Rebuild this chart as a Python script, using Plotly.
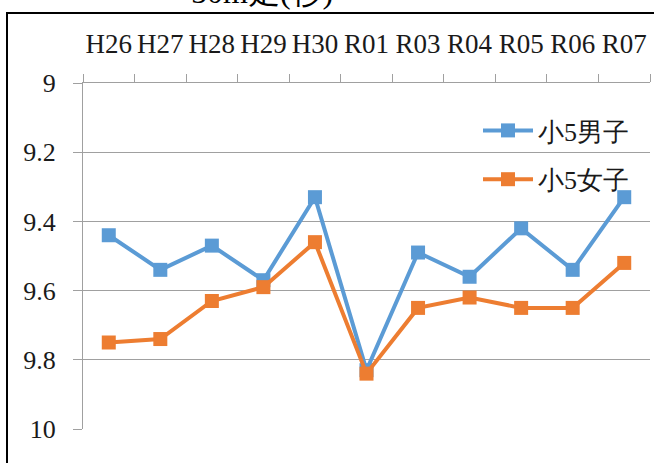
import plotly.graph_objects as go

categories = ["H26", "H27", "H28", "H29", "H30", "R01", "R03", "R04", "R05", "R06", "R07"]
boys = [9.44, 9.54, 9.47, 9.57, 9.33, 9.83, 9.49, 9.56, 9.42, 9.54, 9.33]
girls = [9.75, 9.74, 9.63, 9.59, 9.46, 9.84, 9.65, 9.62, 9.65, 9.65, 9.52]
series_names = ["小5男子", "小5女子"]
title_text = "50m走(秒)"

W, H = 654, 463
ml, mt = 83, 83
mb = H - 429
mr = W - 650
pw, ph = W - ml - mr, H - mt - mb

def px_to_paper_x(px):
    return (px - ml) / pw

def px_to_paper_y(py):
    return (H - mb - py) / ph

serif = "Liberation Serif"

fig = go.Figure()
fig.add_trace(go.Scatter(
    x=categories, y=boys, name=series_names[0], mode="lines+markers",
    line=dict(color="#5B9BD5", width=4), marker=dict(symbol="square", size=14, color="#5B9BD5"),
    legendgroup="a"))
fig.add_trace(go.Scatter(
    x=categories, y=girls, name=series_names[1], mode="lines+markers",
    line=dict(color="#ED7D31", width=4), marker=dict(symbol="square", size=14, color="#ED7D31"),
    legendgroup="b"))

fig.update_layout(
    width=W, height=H,
    margin=dict(l=ml, r=mr, t=mt, b=mb, autoexpand=False),
    paper_bgcolor="white", plot_bgcolor="white",
    font=dict(family=serif, size=26, color="#1a1a1a"),
    showlegend=True,
    legend=dict(x=px_to_paper_x(478), y=px_to_paper_y(107), xanchor="left", yanchor="top",
                bgcolor="rgba(0,0,0,0)", font=dict(size=26, family=serif),
                tracegroupgap=12, itemwidth=50),
    xaxis=dict(side="top", type="category", range=[-0.5, len(categories) - 0.5],
               showgrid=False, showline=True, linecolor="#a0a0a0",
               linewidth=1, ticks="outside", ticklen=8, tickcolor="#a0a0a0", tickson="boundaries",
               tickangle=0, automargin=False,
               tickfont=dict(size=27, family=serif), ticklabelstandoff=18),
    yaxis=dict(range=[10, 9], dtick=0.2, tick0=9, showgrid=True, gridcolor="#a0a0a0", gridwidth=1,
               showline=True, linecolor="#a0a0a0", linewidth=1, ticks="outside", ticklen=9,
               tickcolor="#a0a0a0", tickfont=dict(size=26, family=serif), zeroline=False,
               automargin=False, ticklabelstandoff=12),
)

fig.add_shape(type="rect", xref="paper", yref="paper",
              x0=px_to_paper_x(7), x1=px_to_paper_x(800), y0=px_to_paper_y(13), y1=px_to_paper_y(600),
              line=dict(color="black", width=2), fillcolor="rgba(0,0,0,0)", layer="above")

fig.add_annotation(text=title_text, xref="paper", yref="paper",
                   x=px_to_paper_x(335), y=px_to_paper_y(12), xanchor="right", yanchor="bottom",
                   showarrow=False, font=dict(size=32, family=serif, color="black"))

fig.write_html("out.html", post_script="document.body.style.margin='0';",
               config={"displayModeBar": False})
